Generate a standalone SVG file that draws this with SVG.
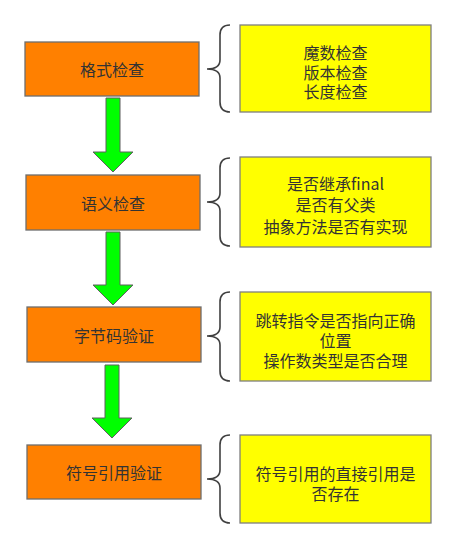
<svg xmlns="http://www.w3.org/2000/svg" width="456" height="547" viewBox="0 0 456 547">
<style>
.step{fill:#FF8000;stroke:#6e6e6e;stroke-width:1.3}
.note{fill:#FFFF00;stroke:#7f7f7f;stroke-width:1.3}
.arrow{fill:#00FF00;stroke:#5f5f5f;stroke-width:1}
.brace{fill:none;stroke:#404040;stroke-width:1.6}
text{font-family:"Noto Sans CJK SC","Liberation Sans",sans-serif;font-size:16px;fill:#333;text-anchor:middle;dominant-baseline:central}
</style>
<rect width="456" height="547" fill="#fff"/>
<g id="connectors">
<path class="arrow" d="M106,98 H120 V152 H133 L113,172 L93,152 H106 Z"/>
<path class="arrow" d="M106,232 H120 V285 H133 L113,305 L93,285 H106 Z"/>
<path class="arrow" d="M105,365 H119 V418 H132 L112,438 L92,418 H105 Z"/>
<path class="brace" d="M230,25 Q220,25 220,35 V60 Q220,69 207,69 Q220,69 220,78 V102 Q220,112 230,112"/>
<path class="brace" d="M230,158 Q220,158 220,168 V193 Q220,202 207,202 Q220,202 220,211 V236 Q220,246 230,246"/>
<path class="brace" d="M230,292 Q220,292 220,302 V327 Q220,336 207,336 Q220,336 220,345 V371 Q220,381 230,381"/>
<path class="brace" d="M230,435 Q220,435 220,445 V470 Q220,479 207,479 Q220,479 220,488 V513 Q220,523 230,523"/>
</g>
<g id="step1"><rect class="step" x="25" y="42" width="174" height="54"/><text x="112" y="69">格式检查</text></g>
<g id="step2"><rect class="step" x="26" y="175" width="174" height="55"/><text x="113" y="202.5">语义检查</text></g>
<g id="step3"><rect class="step" x="27" y="307" width="174" height="55"/><text x="114" y="334.5">字节码验证</text></g>
<g id="step4"><rect class="step" x="27" y="445" width="174" height="54"/><text x="114" y="472">符号引用验证</text></g>
<g id="note1"><rect class="note" x="240" y="25" width="191" height="87"/>
<text x="335.5" y="52">魔数检查</text><text x="335.5" y="72">版本检查</text><text x="335.5" y="91">长度检查</text></g>
<g id="note2"><rect class="note" x="240" y="157" width="191" height="90"/>
<text x="335.5" y="183">是否继承final</text><text x="335.5" y="204">是否有父类</text><text x="335.5" y="226">抽象方法是否有实现</text></g>
<g id="note3"><rect class="note" x="240" y="292" width="191" height="89"/>
<text x="335.5" y="320">跳转指令是否指向正确</text><text x="335.5" y="340">位置</text><text x="335.5" y="360">操作数类型是否合理</text></g>
<g id="note4"><rect class="note" x="240" y="435" width="191" height="88"/>
<text x="335.5" y="473">符号引用的直接引用是</text><text x="335.5" y="493">否存在</text></g>
</svg>
